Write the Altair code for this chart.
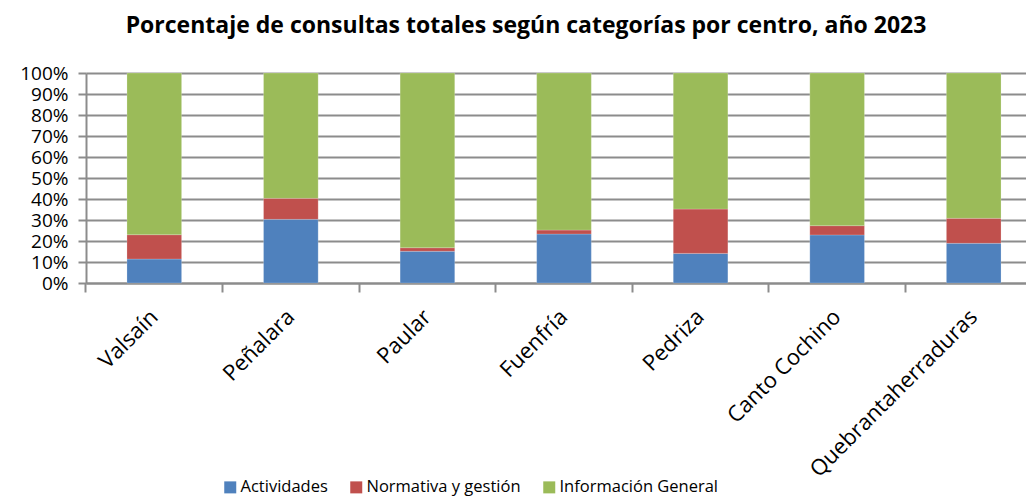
import altair as alt
import pandas as pd

centros = ["Valsaín", "Peñalara", "Paular", "Fuenfría", "Pedriza", "Canto Cochino", "Quebrantaherraduras"]
actividades = [11.4, 30.3, 15.1, 23.3, 14.1, 22.9, 18.9]
normativa = [11.6, 10.0, 1.7, 1.9, 21.1, 4.4, 11.9]
informacion = [77.0, 59.7, 83.2, 74.8, 64.8, 72.7, 69.2]
categorias = ["Actividades", "Normativa y gestión", "Información General"]
colores = ["#4F81BD", "#C0504D", "#9BBB59"]

rows = []
for i, c in enumerate(centros):
    for k, (cat, vals) in enumerate(zip(categorias, [actividades, normativa, informacion])):
        rows.append({"centro": c, "categoria": cat, "valor": vals[i], "orden": k})
df = pd.DataFrame(rows)

FONT = "Open Sans"

x_scale = alt.Scale(domain=centros, range=[0, 956], paddingInner=0.6, paddingOuter=0.3)
x_tick_scale = alt.Scale(domain=centros, range=[0, 956], paddingInner=0, paddingOuter=0)
y_axis = alt.Axis(title=None, format="%", values=[i / 10 for i in range(11)],
                  labelFont=FONT, labelFontSize=19, labelColor="#000000", labelOverlap=False,
                  gridColor="#8c8c8c", gridWidth=2, tickColor="#8c8c8c", tickWidth=2,
                  tickSize=8, domainColor="#8c8c8c", domainWidth=2, labelPadding=10)

bars = alt.Chart(df).mark_bar(stroke="#ffffff", strokeWidth=0.5, strokeOpacity=0.4).encode(
    x=alt.X("centro:N", sort=centros, scale=x_scale,
            axis=alt.Axis(title=None, labelAngle=-45, labelAlign="right", labelBaseline="middle",
                          labelFont=FONT, labelFontSize=22, labelColor="#000000", labelLimit=0,
                          labelPadding=30, ticks=False, domain=False, orient="bottom")),
    y=alt.Y("valor:Q", stack="normalize", scale=alt.Scale(domain=[0, 1]), axis=y_axis),
    color=alt.Color("categoria:N", sort=categorias,
                    scale=alt.Scale(domain=categorias, range=colores),
                    legend=alt.Legend(title=None, orient="none", direction="horizontal",
                                      legendX=136, legendY=406, symbolType="square",
                                      symbolSize=144, symbolStrokeWidth=0, labelLimit=0,
                                      labelFont=FONT, labelFontSize=16.5, labelColor="#000000",
                                      columnPadding=20, labelOffset=2)),
    order=alt.Order("orden:Q", sort="ascending"),
)

ticks = alt.Chart(df).mark_bar(opacity=0).encode(
    x=alt.X("centro:N", sort=centros, scale=x_tick_scale,
            axis=alt.Axis(title=None, labels=False, bandPosition=0, ticks=True, tickSize=9,
                          tickColor="#8c8c8c", tickWidth=2, domain=True, domainColor="#8c8c8c",
                          domainWidth=2, orient="bottom", grid=False)),
    y=alt.Y("valor:Q", stack="normalize", scale=alt.Scale(domain=[0, 1]), axis=None),
)

chart = alt.layer(bars, ticks).resolve_scale(x="independent").resolve_axis(
    x="independent", y="independent").properties(
    width=940, height=210,
    autosize=alt.AutoSizeParams(type="none"),
    padding={"left": 78, "top": 65, "right": 0, "bottom": 214},
    title=alt.TitleParams("Porcentaje de consultas totales según categorías por centro, año 2023",
                          font=FONT, fontSize=23, fontWeight="bold", color="#000000",
                          anchor="middle", dx=-30, offset=26),
).configure_view(stroke=None)

chart.save("out.html", embed_options={"renderer": "svg", "actions": False})
